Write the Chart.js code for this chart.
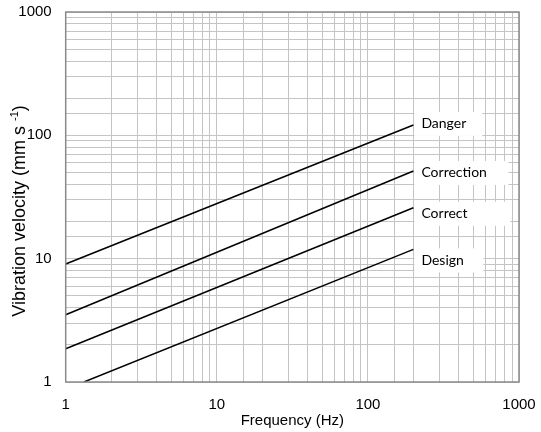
<!DOCTYPE html>
<html>
<head>
<meta charset="utf-8">
<title>Vibration velocity vs frequency</title>
<script src="https://cdn.jsdelivr.net/npm/chart.js@4/dist/chart.umd.min.js"></script>
<style>
  html, body { margin: 0; padding: 0; background: #ffffff; }
  canvas { display: block; }
</style>
</head>
<body>
<canvas id="chart" width="541" height="432"></canvas>
<script>
// Severity limit lines: velocity (mm/s) at the start and end frequency (Hz)
const seriesNames = ['Danger', 'Correction', 'Correct', 'Design'];
const startFreq = [1, 1, 1, 1.32];
const endFreq = [200, 200, 200, 200];
const startVelocity = [9.06, 3.51, 1.86, 1];
const endVelocity = [121.4, 51.4, 25.9, 11.9];
const majorTicks = [1, 10, 100, 1000];

const datasets = seriesNames.map((name, i) => ({
  label: name,
  data: [
    { x: startFreq[i], y: startVelocity[i] },
    { x: endFreq[i], y: endVelocity[i] }
  ],
  borderColor: '#000000',
  borderWidth: 1.5,
  pointRadius: 0,
  fill: false,
  tension: 0
}));

// Label boxes beside the line ends: vertical nudge and box width (px)
const labelStyle = {
  dy: [-1, 2, 6, 11],
  boxWidth: [68, 94, 96, 69],
  boxHeight: 24,
  gap: 1,
  textInset: 7
};

const lineLabels = {
  id: 'lineLabels',
  afterDatasetsDraw(chart) {
    const ctx = chart.ctx;
    const xs = chart.scales.x, ys = chart.scales.y;
    ctx.save();
    ctx.font = '14px Lato, "Open Sans", sans-serif';
    ctx.textBaseline = 'middle';
    ctx.textAlign = 'left';
    seriesNames.forEach((name, i) => {
      const px = xs.getPixelForValue(endFreq[i]);
      const py = ys.getPixelForValue(endVelocity[i]) + labelStyle.dy[i];
      const left = px + labelStyle.gap;
      ctx.fillStyle = '#ffffff';
      ctx.fillRect(left, py - labelStyle.boxHeight / 2, labelStyle.boxWidth[i], labelStyle.boxHeight);
      ctx.fillStyle = '#000000';
      ctx.fillText(name, left + labelStyle.textInset, py);
    });
    ctx.restore();
  }
};

// Y-axis title with a real superscript unit exponent
const yTitle = {
  id: 'yTitle',
  afterDraw(chart) {
    const ctx = chart.ctx;
    const main = 'Vibration velocity (mm s';
    const sup = '-1';
    const tail = ')';
    const mainFont = '18px "Liberation Sans", Arial, sans-serif';
    const supFont = '11px "Liberation Sans", Arial, sans-serif';
    ctx.save();
    ctx.font = mainFont;
    const wMain = ctx.measureText(main + ' ').width;
    const wTail = ctx.measureText(tail).width;
    ctx.font = supFont;
    const wSup = ctx.measureText(sup).width;
    const total = wMain + wSup + wTail;
    const centerY = 211;
    ctx.translate(25, centerY);
    ctx.rotate(-Math.PI / 2);
    ctx.fillStyle = '#000000';
    ctx.textBaseline = 'alphabetic';
    ctx.textAlign = 'left';
    let x = -total / 2;
    ctx.font = mainFont;
    ctx.fillText(main, x, 0);
    x += wMain;
    ctx.font = supFont;
    ctx.fillText(sup, x, -7);
    x += wSup;
    ctx.font = mainFont;
    ctx.fillText(tail, x, 0);
    ctx.restore();
  }
};

const plotFrame = {
  id: 'plotFrame',
  afterDraw(chart) {
    const { left, top, right, bottom } = chart.chartArea;
    const ctx = chart.ctx;
    ctx.save();
    ctx.strokeStyle = '#8a8a8a';
    ctx.lineWidth = 1.5;
    ctx.strokeRect(left, top, right - left, bottom - top);
    ctx.restore();
  }
};

const tickLabel = (v) => majorTicks.includes(v) ? String(v) : '';

new Chart(document.getElementById('chart'), {
  type: 'line',
  data: { datasets },
  plugins: [lineLabels, plotFrame, yTitle],
  options: {
    responsive: false,
    animation: false,
    events: [],
    layout: { padding: { top: 12, right: 22, left: 0, bottom: 0 } },
    plugins: {
      legend: { display: false },
      tooltip: { enabled: false }
    },
    scales: {
      x: {
        type: 'logarithmic',
        min: 1,
        max: 1000,
        afterFit(s) { s.height = 50; s.paddingLeft = 0; s.paddingRight = 0; },
        grid: { color: '#c4c4c4', lineWidth: 1, drawTicks: false },
        border: { display: false },
        ticks: {
          autoSkip: false,
          maxRotation: 0,
          padding: 14,
          color: '#000000',
          font: { family: '"Liberation Sans", Arial, sans-serif', size: 15 },
          callback: tickLabel
        },
        title: {
          display: true,
          text: 'Frequency (Hz)',
          color: '#000000',
          font: { family: '"Liberation Sans", Arial, sans-serif', size: 15 },
          padding: { top: 0, bottom: 2 }
        }
      },
      y: {
        type: 'logarithmic',
        min: 1,
        max: 1000,
        afterFit(s) { s.width = 65.7; s.paddingTop = 0; s.paddingBottom = 0; },
        grid: { color: '#c4c4c4', lineWidth: 1, drawTicks: false },
        border: { display: false },
        ticks: {
          autoSkip: false,
          padding: 14,
          color: '#000000',
          font: { family: '"Liberation Sans", Arial, sans-serif', size: 15 },
          callback: tickLabel
        },
        title: { display: false }
      }
    }
  }
});
</script>
</body>
</html>
